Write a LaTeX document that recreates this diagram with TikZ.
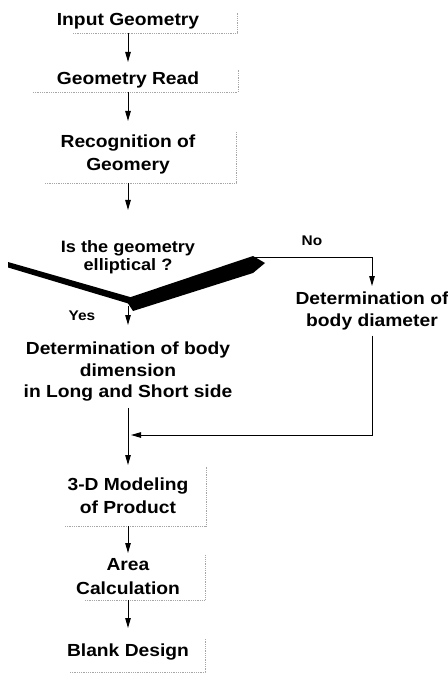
\documentclass[tikz,border=0pt]{standalone}
\usepackage{fontspec}
\setmainfont{Liberation Sans}[FakeStretch=1.1]
\usetikzlibrary{arrows.meta}
\begin{document}
\begin{tikzpicture}[x=1pt,y=-1pt,
  lbl/.style={font=\fontsize{17.5}{22}\selectfont\bfseries, align=center, inner sep=0pt, anchor=north},
  small/.style={font=\fontsize{14}{16}\selectfont\bfseries, inner sep=0pt, anchor=base},
  arr/.style={-{Triangle[length=10pt,width=5.5pt]}, line width=1pt},
  conn/.style={line width=1pt},
  shadow/.style={black!35, densely dotted, line width=0.8pt},
  wedge/.style={fill=black, draw=none}]
\useasboundingbox (0,0) rectangle (447,676);

% text nodes
\node[lbl] (in) at (128,13) {Input Geometry};
\node[lbl] (read) at (128,72) {Geometry Read};
\node[lbl, font=\fontsize{17.5}{23}\selectfont\bfseries] (recog) at (128,135) {Recognition of\\Geomery};
\node[lbl, font=\fontsize{16.5}{18}\selectfont\bfseries] (q) at (128,240) {Is the geometry\\elliptical ?};
\node[lbl, font=\fontsize{17.5}{21.5}\selectfont\bfseries] (detL) at (128,342) {Determination of body\\dimension\\in Long and Short side};
\node[lbl] (detR) at (372,292) {Determination of\\body diameter};
\node[lbl, font=\fontsize{17.5}{23}\selectfont\bfseries] (model) at (128,478) {3-D Modeling\\of Product};
\node[lbl, font=\fontsize{17.5}{24.5}\selectfont\bfseries] (area) at (128,558) {Area\\Calculation};
\node[lbl] (blank) at (128,644) {Blank Design};
\node[small] (yes) at (82,320) {Yes};
\node[small] (no) at (312,245) {No};

% faint box edges
\draw[shadow] (73,33) -- (237,33) -- (237,12);
\draw[shadow] (33,92) -- (238,92) -- (238,70);
\draw[shadow] (45,183) -- (236,183) -- (236,132);
\draw[shadow] (65,526) -- (206,526) -- (206,467);
\draw[shadow] (85,600) -- (205,600) -- (205,555);
\draw[shadow] (70,672) -- (205,672) -- (205,638);

% decision wedge
\fill[wedge] (8,262) -- (130,297) -- (130,304) -- (8,267.5) -- cycle;
\fill[wedge] (125,299) -- (253,256) -- (265,263) -- (253,273) -- (133,311) -- cycle;

% coordinates
\coordinate (b1) at (128,33);
\coordinate (b2) at (128,92);
\coordinate (b3) at (128,183);
\coordinate (vtx) at (128,306);
\coordinate (vR) at (253,257);
\coordinate (join) at (128,435);
\coordinate (b4) at (128,526);
\coordinate (b5) at (128,600);

% connectors
\draw[arr, shorten >=10pt] (b1) -- (read.north);
\draw[arr, shorten >=14pt] (b2) -- (recog.north);
\draw[arr, shorten >=30pt] (b3) -- (q.north);
\draw[arr, shorten >=17pt] (vtx) -- (detL.north);
\draw[arr, shorten >=6pt] (vR) -| (detR.north);
\draw[arr, shorten <=5pt, shorten >=3pt] (detR.south) |- (join);
\draw[arr, shorten <=6pt, shorten >=13pt] (detL.south) -- (model.north);
\draw[arr, shorten >=5pt] (b4) -- (area.north);
\draw[arr, shorten >=16pt] (b5) -- (blank.north);
\end{tikzpicture}
\end{document}
